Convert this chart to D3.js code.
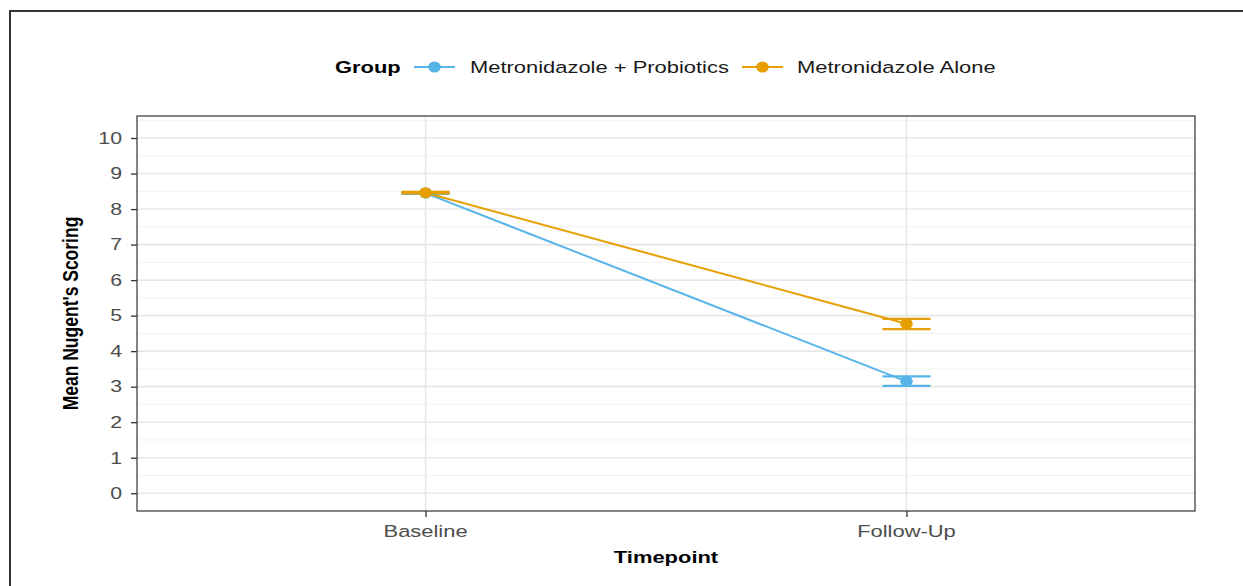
<!DOCTYPE html>
<html><head><meta charset="utf-8">
<script src="https://cdn.jsdelivr.net/npm/d3@7"></script>
<style>body{margin:0;background:#fff}svg{display:block;font-family:"Liberation Sans",Arial,sans-serif}</style>
</head><body>
<svg id="c" width="1243" height="586"></svg>
<script>
const timepoints = ["Baseline", "Follow-Up"];
const groups = ["Metronidazole + Probiotics", "Metronidazole Alone"];
const probioticsMean = [8.45, 3.15];
const probioticsLow  = [8.43, 3.02];
const probioticsHigh = [8.47, 3.29];
const aloneMean = [8.46, 4.77];
const aloneLow  = [8.44, 4.62];
const aloneHigh = [8.48, 4.91];
const yTicks = [0,1,2,3,4,5,6,7,8,9,10];
const colors = ["#56B4E9", "#E69F00"];

const SX = 1.29; // horizontal stretch of text
const svg = d3.select("#c");
function txt(parent, x, y, s, opts){
  opts = opts || {};
  const t = parent.append("text").attr("transform",`translate(${x},${y}) scale(${SX},1)`)
    .attr("text-anchor",opts.anchor||"start")
    .style("font-size",(opts.size||16)+"px")
    .style("font-weight",opts.bold?"bold":"normal")
    .attr("fill",opts.fill||"#000").text(s);
  return t;
}
svg.append("path").attr("d","M10,600 L10,11 L1250,11").attr("fill","none").attr("stroke","#333").attr("stroke-width",2);

const L=137, R=1195, T=116, B=511;
const x = d3.scalePoint().domain(timepoints).range([L,R]).padding(0.6);
const y = d3.scaleLinear().domain([-0.5,10.62]).range([B,T]);
const step = x.step();

const g = svg.append("g");
d3.range(0.5,10.6,1).forEach(v=>{
  g.append("line").attr("x1",L).attr("x2",R).attr("y1",y(v)).attr("y2",y(v)).attr("stroke","#f2f2f2").attr("stroke-width",1);
});
yTicks.forEach(v=>{
  g.append("line").attr("x1",L).attr("x2",R).attr("y1",y(v)).attr("y2",y(v)).attr("stroke","#e8e8e8").attr("stroke-width",1.6);
});
timepoints.forEach(t=>{
  g.append("line").attr("x1",x(t)).attr("x2",x(t)).attr("y1",T).attr("y2",B).attr("stroke","#e8e8e8").attr("stroke-width",1.6);
});

const series = [
  {name:groups[0], mean:probioticsMean, lo:probioticsLow, hi:probioticsHigh, col:colors[0]},
  {name:groups[1], mean:aloneMean, lo:aloneLow, hi:aloneHigh, col:colors[1]}
];
const capW = 0.1*step;
const line = d3.line().x((d,i)=>x(timepoints[i])).y(d=>y(d));
series.forEach(s=>{
  g.append("path").attr("d",line(s.mean)).attr("fill","none").attr("stroke",s.col).attr("stroke-width",2);
});
series.forEach(s=>{
  timepoints.forEach((t,i)=>{
    [s.lo[i], s.hi[i]].forEach(v=>{
      g.append("line").attr("x1",x(t)-capW/2).attr("x2",x(t)+capW/2).attr("y1",y(v)).attr("y2",y(v)).attr("stroke",s.col).attr("stroke-width",2.3);
    });
    g.append("line").attr("x1",x(t)).attr("x2",x(t)).attr("y1",y(s.lo[i])).attr("y2",y(s.hi[i])).attr("stroke",s.col).attr("stroke-width",2.3);
    g.append("ellipse").attr("cx",x(t)).attr("cy",y(s.mean[i])).attr("rx",6.3).attr("ry",5.6).attr("fill",s.col);
  });
});

svg.append("rect").attr("x",L).attr("y",T).attr("width",R-L).attr("height",B-T).attr("fill","none").attr("stroke","#333").attr("stroke-width",1.2);

const ya = svg.append("g").attr("transform",`translate(${L},0)`).call(d3.axisLeft(y).tickValues(yTicks).tickSize(6).tickFormat(""));
const xa = svg.append("g").attr("transform",`translate(0,${B})`).call(d3.axisBottom(x).tickSize(6).tickFormat(""));
[ya,xa].forEach(a=>{
  a.select(".domain").remove();
  a.selectAll(".tick line").attr("stroke","#333").attr("stroke-width",1.3);
});
yTicks.forEach(v=>txt(svg, 122, y(v)+5.8, d3.format("d")(v), {anchor:"end", size:16.5, fill:"#4d4d4d"}));
timepoints.forEach(t=>txt(svg, x(t), 537, t, {anchor:"middle", size:17, fill:"#4d4d4d"}));

txt(svg,(L+R)/2,563,"Timepoint",{anchor:"middle",bold:true,size:17});
svg.append("text").attr("transform",`translate(78,${(T+B)/2}) scale(${SX},1) rotate(-90)`).attr("text-anchor","middle")
  .style("font-weight","bold").style("font-size","17.5px").text("Mean Nugent's Scoring");

const lg = svg.append("g").attr("transform","translate(0,67)");
txt(lg,335,6,"Group",{bold:true,size:17});
const keyX=[414,742], labX=[470,797];
series.forEach((s,i)=>{
  lg.append("line").attr("x1",keyX[i]).attr("x2",keyX[i]+41).attr("y1",0).attr("y2",0).attr("stroke",s.col).attr("stroke-width",2);
  lg.append("ellipse").attr("cx",keyX[i]+20.5).attr("cy",0).attr("rx",6.3).attr("ry",5.6).attr("fill",s.col);
  txt(lg,labX[i],6,s.name,{size:17,fill:"#1a1a1a"});
});
</script>
</body></html>
